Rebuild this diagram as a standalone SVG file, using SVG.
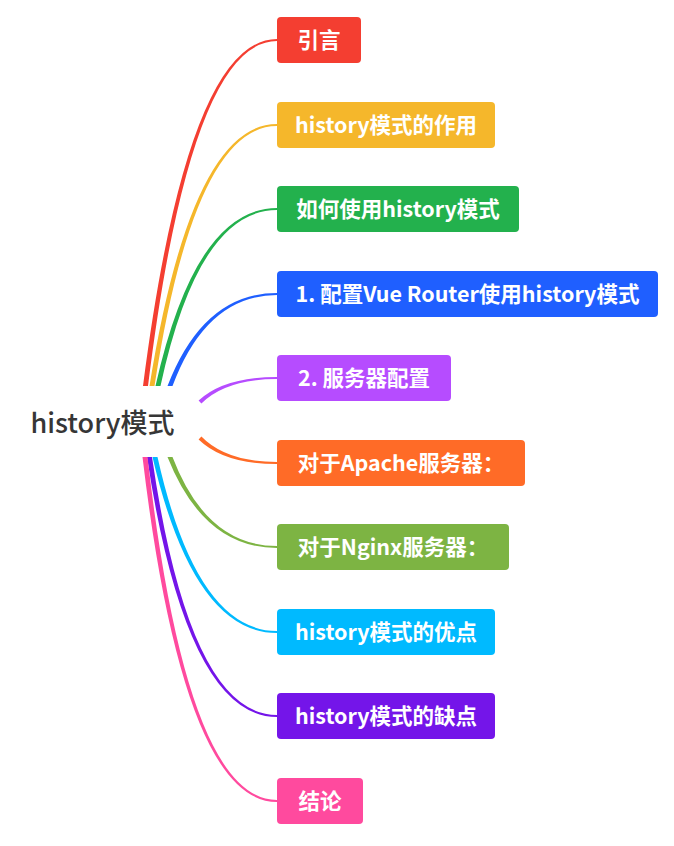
<svg xmlns="http://www.w3.org/2000/svg" width="674" height="846" viewBox="0 0 674 846">
<style>
.box{stroke:none}
.lbl{font-family:"Noto Sans CJK SC","Microsoft YaHei",sans-serif;font-weight:bold;font-size:21.5px;fill:#fff;text-anchor:middle}
.root{font-family:"Noto Sans CJK SC",sans-serif;font-weight:500;font-size:27px;fill:#363636;text-anchor:middle}
</style>
<rect width="674" height="846" fill="#fff"/>
<g id="connectors">
<path fill="#F43E31" d="M143,386 Q187.5,39 277,39 L277,41 Q190.5,41 148,386 Z"/>
<path fill="#F5B72B" d="M149.5,386 Q191.5,124 277,124 L277,126 Q194.5,126 154.5,386 Z"/>
<path fill="#23B14D" d="M155.5,386 Q195.5,208 277,208 L277,210 Q198.5,210 160.5,386 Z"/>
<path fill="#1F5FFF" d="M167.5,386 Q203.5,293 277,293 L277,295 Q206.5,295 172.5,386 Z"/>
<path fill="#B64CFF" d="M198.6,400.6 Q224,377 277,377 L277,379 Q226,379 201.4,403.4 Z"/>
<path fill="#FF6B27" d="M201.4,436.6 Q226,462 277,462 L277,464 Q224,464 198.6,439.4 Z"/>
<path fill="#7DB443" d="M167.5,457 Q203.5,548 277,548 L277,546 Q206.5,546 172.5,457 Z"/>
<path fill="#00BAFF" d="M152.5,457 Q193.5,633 277,633 L277,631 Q196.5,631 157.5,457 Z"/>
<path fill="#7415E9" d="M147,457 Q186.5,717 277,717 L277,715 Q189.5,715 152,457 Z"/>
<path fill="#FF4A9E" d="M142.5,457 Q183.5,802 277,802 L277,800 Q186.5,800 147.5,457 Z"/>
</g>
<g id="root"><text class="root" x="102.5" y="433">history模式</text></g>
<g id="n1"><rect class="box" x="277" y="17" width="84" height="46" rx="4" fill="#F43E31"/><text class="lbl" x="319" y="48">引言</text></g>
<g id="n2"><rect class="box" x="277" y="102" width="218" height="46" rx="4" fill="#F5B72B"/><text class="lbl" x="386" y="133">history模式的作用</text></g>
<g id="n3"><rect class="box" x="277" y="186" width="242" height="46" rx="4" fill="#23B14D"/><text class="lbl" x="398" y="217">如何使用history模式</text></g>
<g id="n4"><rect class="box" x="277" y="271" width="381" height="46" rx="4" fill="#1F5FFF"/><text class="lbl" x="467.5" y="302">1. 配置Vue Router使用history模式</text></g>
<g id="n5"><rect class="box" x="277" y="355" width="174" height="46" rx="4" fill="#B64CFF"/><text class="lbl" x="364" y="386">2. 服务器配置</text></g>
<g id="n6"><rect class="box" x="277" y="440" width="248" height="46" rx="4" fill="#FF6B27"/><text class="lbl" x="401" y="471">对于Apache服务器：</text></g>
<g id="n7"><rect class="box" x="277" y="524" width="232" height="46" rx="4" fill="#7DB443"/><text class="lbl" x="393" y="555">对于Nginx服务器：</text></g>
<g id="n8"><rect class="box" x="277" y="609" width="218" height="46" rx="4" fill="#00BAFF"/><text class="lbl" x="386" y="640">history模式的优点</text></g>
<g id="n9"><rect class="box" x="277" y="693" width="218" height="46" rx="4" fill="#7415E9"/><text class="lbl" x="386" y="724">history模式的缺点</text></g>
<g id="n10"><rect class="box" x="277" y="778" width="86" height="46" rx="4" fill="#FF4A9E"/><text class="lbl" x="320" y="809">结论</text></g>
</svg>
